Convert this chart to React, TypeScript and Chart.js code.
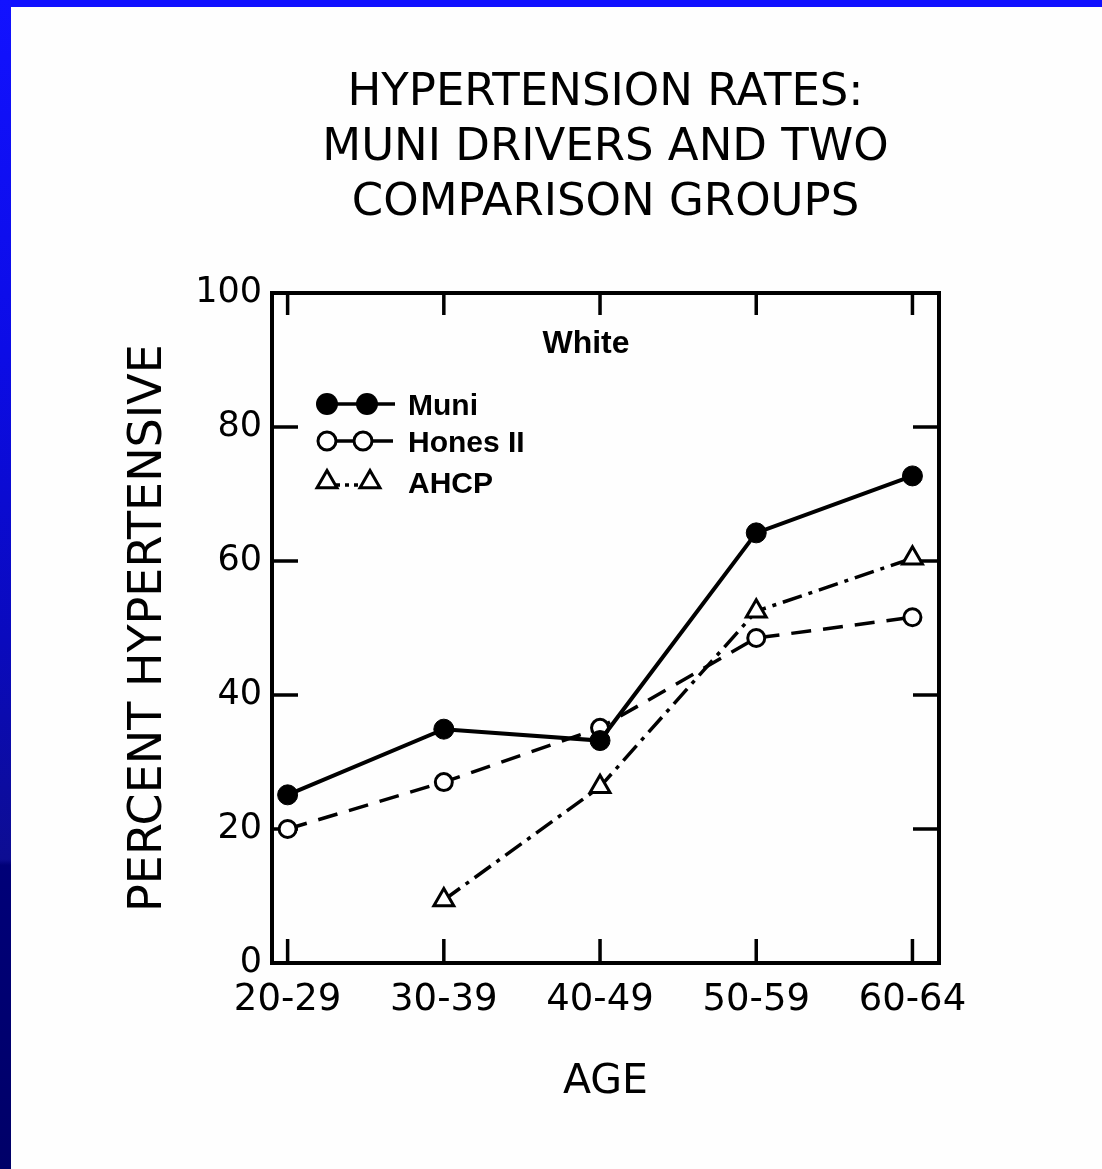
import React, { useEffect, useRef } from 'react';
import { Chart, registerables } from 'chart.js';

Chart.register(...registerables);

// ---- data ----
const ageGroups = ['20-29', '30-39', '40-49', '50-59', '60-64'];
const muniValues = [25.1, 34.9, 33.2, 64.2, 72.7];
const honesValues = [20.0, 27.0, 35.1, 48.5, 51.6];
const ahcpValues: (number | null)[] = [null, 9.4, 26.3, 52.5, 60.4];
const yTickValues = [0, 20, 40, 60, 80, 100];
const innerTickValues = [20, 40, 60, 80];
const titleLines = ['HYPERTENSION RATES:', 'MUNI DRIVERS AND TWO', 'COMPARISON GROUPS'];
const seriesNames = ['Muni', 'Hones II', 'AHCP'];
const panelLabel = 'White';
const xAxisTitle = 'AGE';
const yAxisTitle = 'PERCENT HYPERTENSIVE';

const FONT = '"DejaVu Sans", sans-serif';
const INK = '#000';

const toPoints = (vals: (number | null)[]) => vals.map((v, i) => ({ x: i, y: v }));

function drawMarker(ctx: CanvasRenderingContext2D, kind: string, x: number, y: number, r: number) {
  ctx.save();
  ctx.setLineDash([]);
  ctx.lineWidth = 3;
  ctx.strokeStyle = INK;
  if (kind === 'filled') {
    ctx.fillStyle = INK;
    ctx.beginPath();
    ctx.arc(x, y, r, 0, Math.PI * 2);
    ctx.fill();
  } else if (kind === 'open') {
    ctx.fillStyle = '#fff';
    ctx.beginPath();
    ctx.arc(x, y, r, 0, Math.PI * 2);
    ctx.fill();
    ctx.stroke();
  } else {
    ctx.fillStyle = '#fff';
    ctx.beginPath();
    ctx.moveTo(x, y - r);
    ctx.lineTo(x + r * Math.sin(Math.PI / 3), y + r * 0.5);
    ctx.lineTo(x - r * Math.sin(Math.PI / 3), y + r * 0.5);
    ctx.closePath();
    ctx.fill();
    ctx.stroke();
  }
  ctx.restore();
}

const decorPlugin = {
  id: 'decor',
  beforeDatasetsDraw(chart: any) {
    const { ctx, chartArea: a, scales } = chart;
    ctx.save();
    ctx.strokeStyle = INK;
    ctx.lineWidth = 4;
    ctx.strokeRect(a.left, a.top, a.right - a.left, a.bottom - a.top);
    ctx.lineWidth = 3.5;
    ctx.beginPath();
    innerTickValues.forEach((v) => {
      const y = scales.y.getPixelForValue(v);
      ctx.moveTo(a.left, y);
      ctx.lineTo(a.left + 26, y);
      ctx.moveTo(a.right, y);
      ctx.lineTo(a.right - 26, y);
    });
    ageGroups.forEach((_, i) => {
      const x = scales.x.getPixelForValue(i);
      ctx.moveTo(x, a.bottom);
      ctx.lineTo(x, a.bottom - 24);
      ctx.moveTo(x, a.top);
      ctx.lineTo(x, a.top + 22);
    });
    ctx.stroke();
    ctx.restore();
  },
  afterDraw(chart: any) {
    const { ctx, chartArea: a } = chart;
    ctx.save();
    ctx.fillStyle = INK;
    ctx.textBaseline = 'middle';
    ctx.textAlign = 'center';
    ctx.font = 'bold 32px "Liberation Sans", sans-serif';
    ctx.fillText(panelLabel, a.left + 314, a.top + 51);

    const rows = [
      { kind: 'filled', dy: 111, r: 11, dash: [] as number[], x2: 95, end: 123 },
      { kind: 'open', dy: 148, r: 9, dash: [] as number[], x2: 91, end: 121 },
      { kind: 'tri', dy: 189, r: 11.5, dash: [4, 5], x2: 98, end: 98 },
    ];
    ctx.textAlign = 'left';
    ctx.font = 'bold 30px "Liberation Sans", sans-serif';
    rows.forEach((row, i) => {
      const y = a.top + row.dy;
      const x1 = a.left + 55;
      const x2 = a.left + row.x2;
      ctx.save();
      ctx.strokeStyle = INK;
      ctx.lineWidth = 3.5;
      ctx.setLineDash(row.dash);
      ctx.beginPath();
      ctx.moveTo(x1, y + (row.kind === 'tri' ? 3 : 0));
      ctx.lineTo(a.left + row.end, y + (row.kind === 'tri' ? 3 : 0));
      ctx.stroke();
      ctx.restore();
      drawMarker(ctx, row.kind, x1, y, row.r);
      drawMarker(ctx, row.kind, x2, y, row.r);
      ctx.fillText(seriesNames[i], a.left + 136, y + 3);
    });
    ctx.restore();
  },
};

export default function App() {
  const ref = useRef<HTMLCanvasElement | null>(null);

  useEffect(() => {
    if (!ref.current) return;
    const chart = new Chart(ref.current, {
      type: 'line',
      data: {
        datasets: [
          {
            label: seriesNames[0],
            data: toPoints(muniValues),
            borderColor: INK,
            borderWidth: 4,
            pointRadius: 10,
            pointBackgroundColor: INK,
            pointBorderColor: INK,
            pointBorderWidth: 1,
            tension: 0,
          },
          {
            label: seriesNames[1],
            data: toPoints(honesValues),
            borderColor: INK,
            borderWidth: 3.5,
            borderDash: [20, 12],
            pointRadius: 8.5,
            pointBackgroundColor: '#fff',
            pointBorderColor: INK,
            pointBorderWidth: 3,
            tension: 0,
          },
          {
            label: seriesNames[2],
            data: toPoints(ahcpValues),
            borderColor: INK,
            borderWidth: 3.5,
            borderDash: [20, 7, 4, 7],
            pointStyle: 'triangle',
            pointRadius: 11.5,
            pointBackgroundColor: '#fff',
            pointBorderColor: INK,
            pointBorderWidth: 3,
            tension: 0,
          },
        ],
      },
      options: {
        responsive: false,
        animation: false,
        devicePixelRatio: 1,
        clip: false,
        layout: { padding: { left: 88, right: 163, top: 10, bottom: 56 } },
        plugins: {
          legend: { display: false },
          tooltip: { enabled: false },
          title: {
            display: true,
            text: titleLines,
            fullSize: false,
            color: INK,
            font: { family: FONT, size: 45, weight: 'normal', lineHeight: 55 / 45 },
            padding: { top: 55.5, bottom: 62.5 },
          },
        },
        scales: {
          x: {
            type: 'linear',
            min: -0.1,
            max: 4.17,
            afterFit: (s: any) => {
              s.height = 150;
            },
            afterBuildTicks: (s: any) => {
              s.ticks = ageGroups.map((_, i) => ({ value: i }));
            },
            ticks: {
              callback: (v: any) => ageGroups[v] ?? '',
              font: { family: FONT, size: 37 },
              color: INK,
              padding: 15,
              maxRotation: 0,
              autoSkip: false,
            },
            grid: { display: false, drawTicks: false },
            border: { display: false },
            title: {
              display: true,
              text: xAxisTitle,
              color: INK,
              font: { family: FONT, size: 41 },
              padding: { top: 0, bottom: 6.4 },
            },
          },
          y: {
            type: 'linear',
            min: 0,
            max: 100,
            afterFit: (s: any) => {
              s.width = 184;
            },
            afterBuildTicks: (s: any) => {
              s.ticks = yTickValues.map((v) => ({ value: v }));
            },
            ticks: {
              font: { family: FONT, size: 35 },
              color: INK,
              padding: 10,
            },
            grid: { display: false, drawTicks: false },
            border: { display: false },
            title: {
              display: true,
              text: yAxisTitle,
              color: INK,
              font: { family: FONT, size: 46 },
              padding: { top: 33.4, bottom: 0 },
            },
          },
        },
      } as any,
      plugins: [decorPlugin],
    });
    return () => chart.destroy();
  }, []);

  return (
    <div
      style={{
        position: 'fixed',
        left: 0,
        top: 0,
        width: 1102,
        height: 1169,
        background: '#fefefe',
        overflow: 'hidden',
      }}
    >
      <div style={{ position: 'absolute', left: 0, top: 0, width: 1102, height: 7, background: '#1010ff' }} />
      <div
        style={{
          position: 'absolute',
          left: 0,
          top: 0,
          width: 11,
          height: 1169,
          background:
            'linear-gradient(to bottom, #1212ff 0%, #0c0ce6 30%, #0a0abd 55%, #0d0d92 73.5%, #000078 74%, #000068 100%)',
        }}
      />
      <canvas ref={ref} width={1102} height={1169} style={{ position: 'absolute', left: 0, top: 0, width: 1102, height: 1169 }} />
    </div>
  );
}
